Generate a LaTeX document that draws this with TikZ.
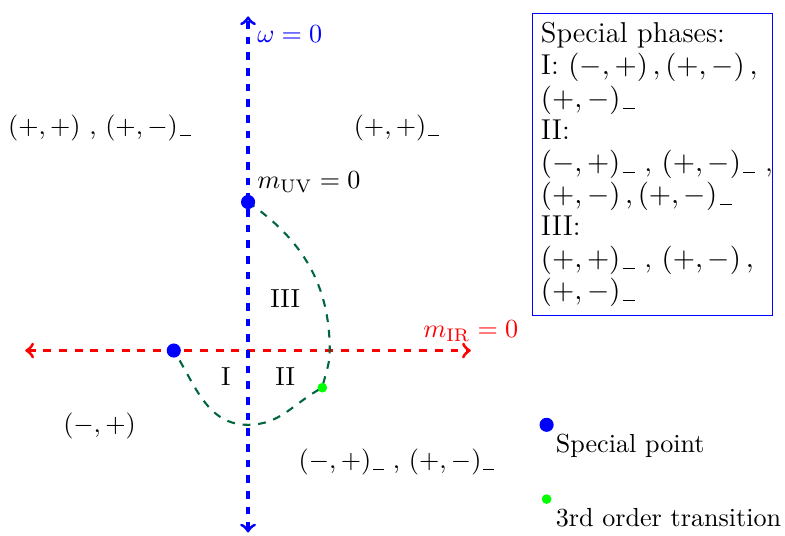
\documentclass[tikz,border=0pt]{standalone}
\usetikzlibrary{positioning}
\definecolor{cpine}{HTML}{00663C}
\newcommand{\usc}{\kern.08em\rule[-.7pt]{.42em}{.45pt}}
\tikzset{
  axis/.style={<->, dashed, very thick, draw=#1},
  border/.style={dashed, thick, draw=cpine},
  spot/.style={circle, fill=blue, inner sep=0pt, minimum size=0.19cm},
  crit/.style={circle, fill=green, inner sep=0pt, minimum size=0.13cm},
  panel/.style={draw=blue, text width=3cm, align=left, anchor=north west, font=\fontsize{11}{12.3}\selectfont},
}
\begin{document}
\begin{tikzpicture}
  \useasboundingbox (-3.34,-2.49) rectangle (7.23,4.72);
  % axes
  \coordinate (wlo) at (0,-2.45); \coordinate (whi) at (0,4.5);
  \coordinate (mlo) at (-3,0); \coordinate (mhi) at (3,0);
  \draw[axis=red] (mlo) -- (mhi);
  \draw[axis=blue] (wlo) -- (whi);
  \node[blue, below right] (wlab) at (whi) {$\omega=0$};
  \node[red, above] (irlab) at (mhi) {$m_{\mathrm{IR}}=0$};
  % phase boundary
  \coordinate (uv) at (0,2); \coordinate (ir) at (-1,0); \coordinate (tr) at (1,-0.5);
  \coordinate (bend) at (1.1,0); \coordinate (low) at (0,-1);
  \draw[border] (uv) to[out=-35,in=90] (bend) to[out=-90,in=78] (tr)
    to[out=-152,in=0] (low) to[out=180,in=-58] (ir);
  \node[spot] (uvdot) at (uv) {};
  \node[spot] (irdot) at (ir) {};
  \node[crit] (trdot) at (tr) {};
  \node[above right] (uvlab) at (uv) {$m_{\mathrm{UV}}=0$};
  \node (p3) at (0.5,0.7) {III};
  \node (p1) at (-0.3,-0.35) {I};
  \node (p2) at (0.5,-0.35) {II};
  % regions
  \node (ul) at (-2,3) {$(+,+)$ , $(+,-)$\usc};
  \node (ur) at (2,3) {$(+,+)$\usc};
  \node (ll) at (-2,-1.02) {$(-,+)$};
  \node (lr) at (2,-1.5) {$(-,+)$\usc\ , $(+,-)$\usc};
  % special phases
  \node[panel] (phases) at (3.82,4.54) {\mbox{Special phases:}\\
    \mbox{I: $(-,+)\,,(+,-)\,,$}\\ $(+,-)$\usc\\
    II:\\ \mbox{$(-,+)$\usc\,\,, $(+,-)$\usc\,\,,}\\ \mbox{$(+,-)\,,(+,-)$\usc}\\
    III:\\ \mbox{$(+,+)$\usc\,\,, $(+,-)\,,$}\\ $(+,-)$\usc};
  % legend
  \foreach \s/\y/\t in {spot/-1/Special point, crit/-2/3rd order transition} {
    \node[\s] (key\s) at (4.02,\y) {};
    \node[below right=0pt and 0pt of key\s.center] (txt\s) {\t};
  }
\end{tikzpicture}
\end{document}
